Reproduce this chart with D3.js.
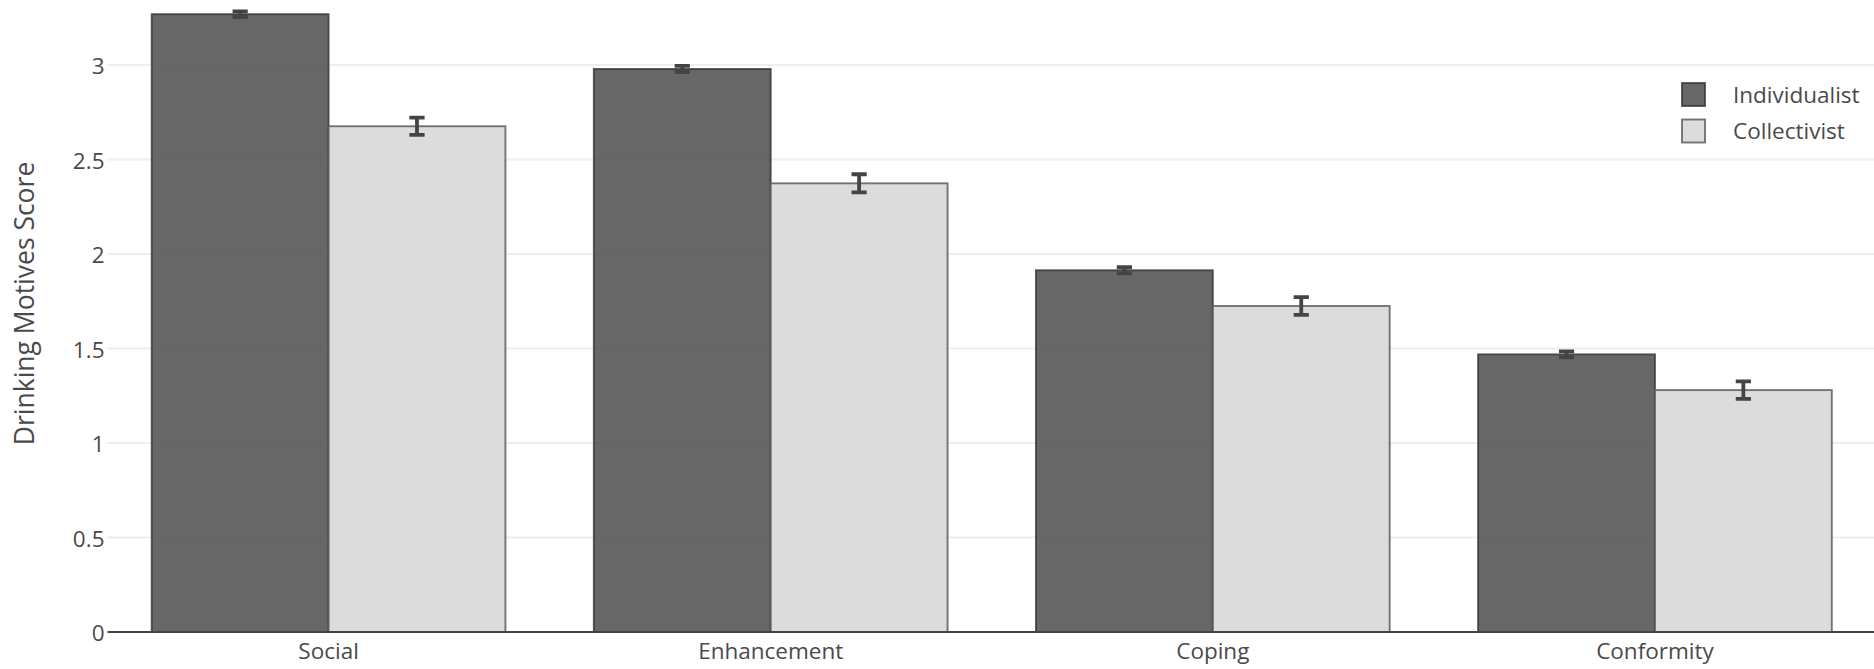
<!DOCTYPE html>
<meta charset="utf-8">
<style>

body { margin: 0; background: #fff; }

text {
  font-family: "Open Sans", sans-serif;
  fill: #4a4a4a;
}

.grid line {
  stroke: #eee;
  stroke-width: 1.9px;
}

.zero {
  stroke: #444;
  stroke-width: 1.9px;
}

.err {
  stroke: #444;
  stroke-width: 3.8px;
  fill: none;
}

</style>

<body>

<!-- load the d3.js library -->
<script src="https://cdn.jsdelivr.net/npm/d3@7"></script>
<script>

// chart data
var categories = ["Social", "Enhancement", "Coping", "Conformity"];
var seriesNames = ["Individualist", "Collectivist"];
var individualist = [3.269, 2.979, 1.914, 1.469];
var collectivist = [2.676, 2.374, 1.725, 1.280];
var individualistErr = [0.015, 0.016, 0.016, 0.016];
var collectivistErr = [0.046, 0.048, 0.047, 0.046];
var yTicks = [0, 0.5, 1, 1.5, 2, 2.5, 3];

var seriesValues = [individualist, collectivist];
var seriesErrors = [individualistErr, collectivistErr];
var fills = ["#4e4e4e", "#d6d6d6"];
var strokes = ["#333", "#555"];

// set the dimensions of the diagram
var width = 1874,
    height = 669,
    plot = {left: 107.5, right: 1876, top: 0, bottom: 632};

var svg = d3.select("body").append("svg")
    .attr("width", width)
    .attr("height", height);

// scales
var x = d3.scaleBand()
    .domain(categories)
    .range([plot.left, plot.right])
    .paddingInner(0)
    .paddingOuter(0);

var groupWidth = x.bandwidth() * 0.8;

var xSub = d3.scaleBand()
    .domain(seriesNames)
    .range([0, groupWidth]);

var y = d3.scaleLinear()
    .domain([0, 3.344])
    .range([plot.bottom, plot.top]);

// horizontal gridlines
svg.append("g")
    .attr("class", "grid")
  .selectAll("line")
    .data(yTicks.filter(d => d > 0))
  .enter().append("line")
    .attr("x1", plot.left)
    .attr("x2", width)
    .attr("y1", d => y(d))
    .attr("y2", d => y(d));

// y tick labels
svg.append("g")
  .selectAll("text")
    .data(yTicks)
  .enter().append("text")
    .attr("x", plot.left - 3)
    .attr("y", d => y(d))
    .attr("dy", "0.4em")
    .attr("text-anchor", "end")
    .style("font-size", "22.5px")
    .text(d => String(d));

// y axis title
svg.append("text")
    .attr("transform", "translate(34,303.5) rotate(-90)")
    .attr("text-anchor", "middle")
    .style("font-size", "26.5px")
    .text("Drinking Motives Score");

// bars, one group per series
var series = svg.selectAll(".series")
    .data(seriesNames)
  .enter().append("g")
    .attr("class", "series");

series.selectAll("rect")
    .data((s, i) => categories.map((c, j) => ({s: s, i: i, c: c, v: seriesValues[i][j]})))
  .enter().append("rect")
    .attr("x", d => x(d.c) + (x.bandwidth() - groupWidth) / 2 + xSub(d.s))
    .attr("width", xSub.bandwidth())
    .attr("y", d => y(d.v))
    .attr("height", d => y(0) - y(d.v))
    .attr("fill", d => fills[d.i])
    .attr("fill-opacity", 0.86)
    .attr("stroke", d => strokes[d.i])
    .attr("stroke-opacity", 0.8)
    .attr("stroke-width", 1.9);

// zero line
svg.append("line")
    .attr("class", "zero")
    .attr("x1", plot.left)
    .attr("x2", width)
    .attr("y1", y(0))
    .attr("y2", y(0));

// error bars
var cap = 7.6;
series.selectAll("path.err")
    .data((s, i) => categories.map((c, j) => ({s: s, c: c, v: seriesValues[i][j], e: seriesErrors[i][j]})))
  .enter().append("path")
    .attr("class", "err")
    .attr("d", function(d) {
      var cx = x(d.c) + (x.bandwidth() - groupWidth) / 2 + xSub(d.s) + xSub.bandwidth() / 2,
          y0 = y(d.v - d.e),
          y1 = y(d.v + d.e);
      return "M" + (cx - cap) + "," + y1 + "H" + (cx + cap) +
             "M" + cx + "," + y1 + "V" + y0 +
             "M" + (cx - cap) + "," + y0 + "H" + (cx + cap);
    });

// x category labels
svg.append("g")
  .selectAll("text")
    .data(categories)
  .enter().append("text")
    .attr("x", d => x(d) + x.bandwidth() / 2)
    .attr("y", 659)
    .attr("text-anchor", "middle")
    .style("font-size", "22.5px")
    .text(d => d);

// legend
var legend = svg.append("g")
    .attr("transform", "translate(1682,83)");

var item = legend.selectAll("g")
    .data(seriesNames)
  .enter().append("g")
    .attr("transform", (d, i) => "translate(0," + (i * 36.5) + ")");

item.append("rect")
    .attr("width", 23)
    .attr("height", 23)
    .attr("fill", (d, i) => fills[i])
    .attr("fill-opacity", 0.86)
    .attr("stroke", (d, i) => strokes[i])
    .attr("stroke-opacity", 0.8)
    .attr("stroke-width", 1.9);

item.append("text")
    .attr("x", 51)
    .attr("y", 11.5)
    .attr("dy", "0.36em")
    .style("font-size", "22.5px")
    .text(d => d);

</script>
</body>
